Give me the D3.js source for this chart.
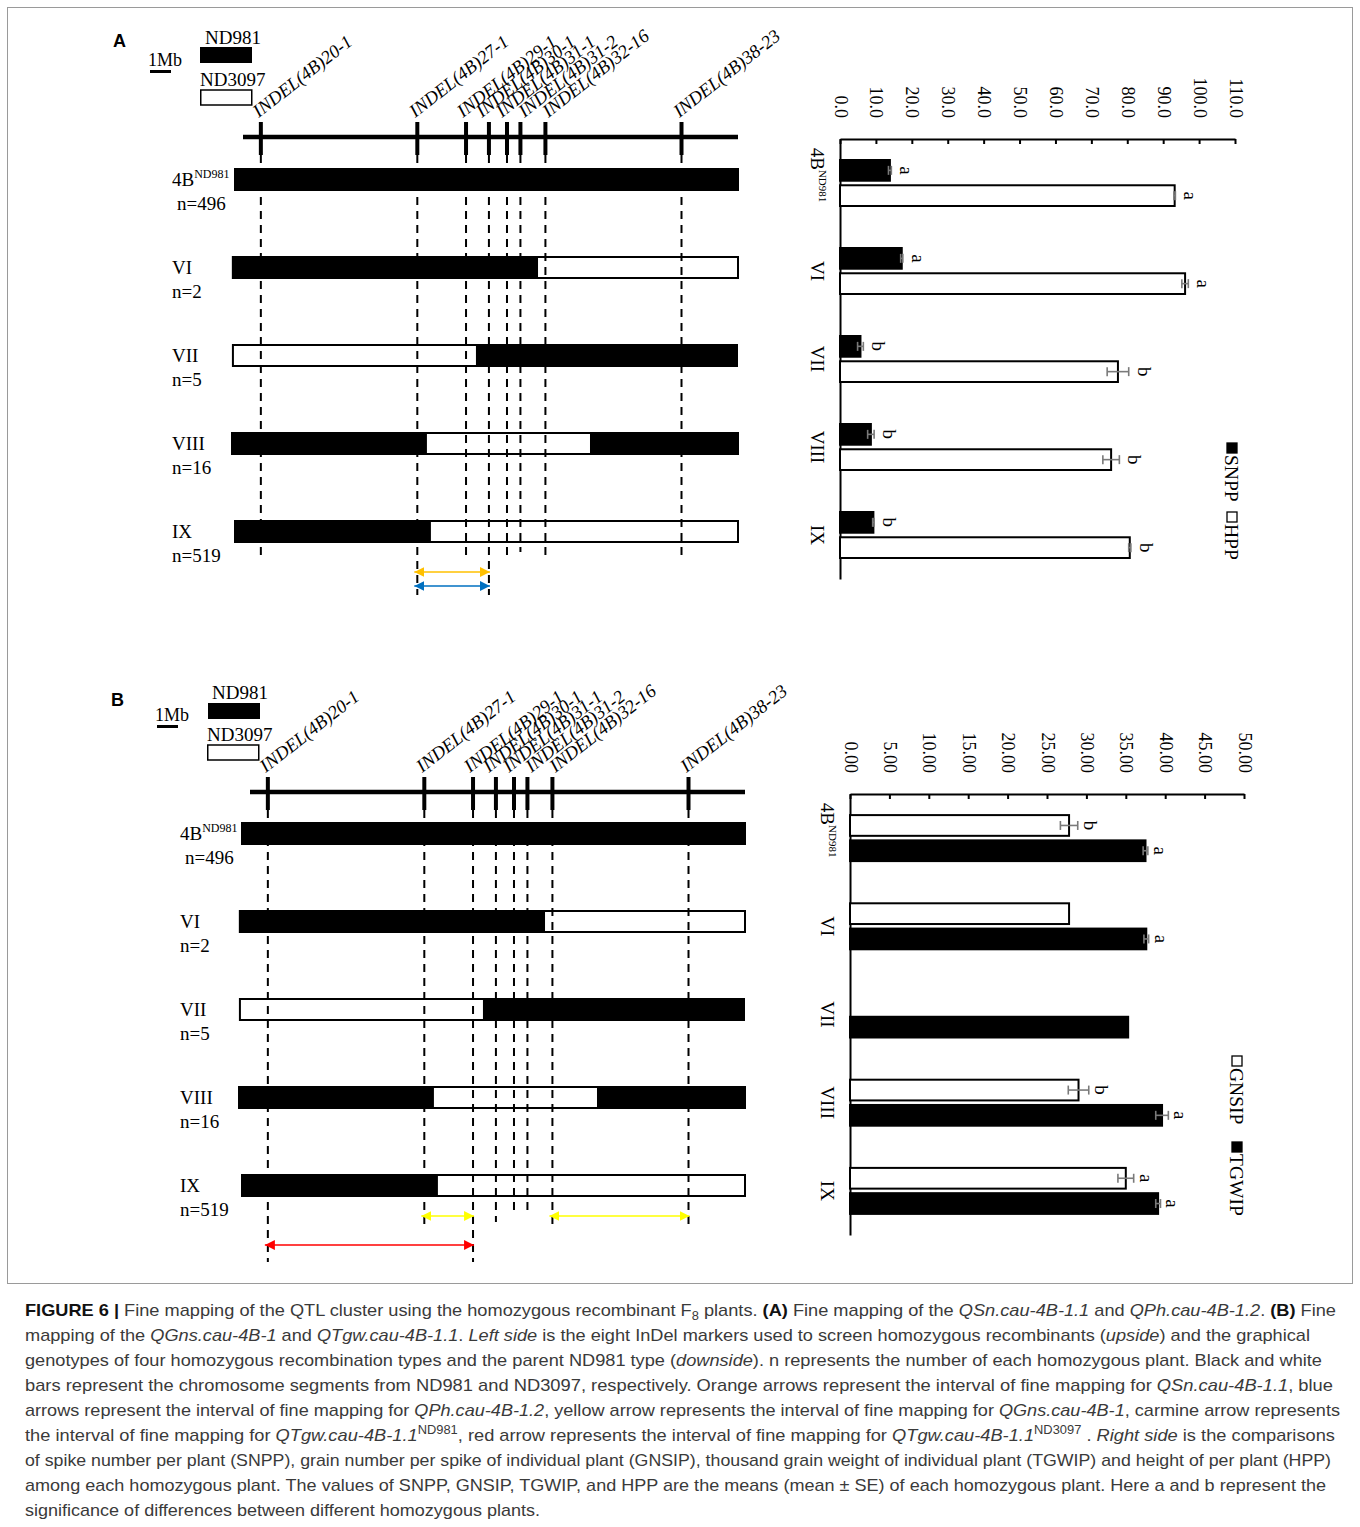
<!DOCTYPE html>
<html>
<head>
<meta charset="utf-8">
<script src="https://cdn.jsdelivr.net/npm/d3@7"></script>
<style>
  html, body { margin: 0; padding: 0; background: #fff; }
  svg { display: block; }
</style>
</head>
<body>
<svg id="fig" width="1360" height="1527"></svg>
<script>
// ---------------- data ----------------
const markerNames = ["INDEL(4B)20-1", "INDEL(4B)27-1", "INDEL(4B)29-1", "INDEL(4B)30-1",
                     "INDEL(4B)31-1", "INDEL(4B)31-2", "INDEL(4B)32-16", "INDEL(4B)38-23"];
const markerMb = [0.85, 8.3, 10.62, 11.71, 12.57, 13.21, 14.4, 20.88];
const chromosomeMb = [0, 23.57];

const genotypeNames = ["4B^ND981", "VI", "VII", "VIII", "IX"];
const plantCounts = [496, 2, 5, 16, 519];
// segment boundaries (Mb) of each graphical genotype; parents alternate from the first one
const genotypeBreaks = [
  [-0.38, 23.57],
  [-0.48, 14.0, 23.57],
  [-0.48, 11.14, 23.52],
  [-0.52, 8.71, 16.57, 23.57],
  [-0.38, 8.9, 23.57]
];
const genotypeFirstParent = ["ND981", "ND981", "ND3097", "ND981", "ND981"];

// mapped intervals as [left marker, right marker] indices
const qSnInterval = [1, 3];
const qPhInterval = [1, 3];
const qGnsIntervals = [[1, 2], [6, 7]];
const qTgwInterval = [0, 2];

// trait means, SE and significance groups
const snpp = [13.9, 17.2, 5.7, 8.6, 9.3];
const snppSE = [0.4, 0.3, 0.8, 0.9, 0.2];
const snppGroup = ["a", "a", "b", "b", "b"];
const hpp = [93.2, 96.1, 77.4, 75.5, 80.7];
const hppSE = [0.2, 0.9, 3.0, 2.3, 0.3];
const hppGroup = ["a", "a", "b", "b", "b"];
const ticksA = [0, 10, 20, 30, 40, 50, 60, 70, 80, 90, 100, 110];

const gnsip = [27.8, 27.8, null, 29.0, 35.0];
const gnsipSE = [1.1, null, null, 1.3, 1.0];
const gnsipGroup = ["b", "", "", "b", "a"];
const tgwip = [37.5, 37.6, 35.3, 39.6, 39.1];
const tgwipSE = [0.3, 0.3, null, 0.8, 0.3];
const tgwipGroup = ["a", "a", "", "a", "a"];
const ticksB = [0, 5, 10, 15, 20, 25, 30, 35, 40, 45, 50];

// ---------------- drawing ----------------
const SERIF = "'Liberation Serif', 'Times New Roman', serif";
const SANS = "'Liberation Sans', Arial, sans-serif";
const svg = d3.select("#fig");

// figure frame
svg.append("rect").attr("x", 7.5).attr("y", 7.5).attr("width", 1345).attr("height", 1276)
  .attr("fill", "none").attr("stroke", "#9a9a9a").attr("stroke-width", 1);

const defs = svg.append("defs");
function arrowMarker(id, color) {
  defs.append("marker").attr("id", id).attr("viewBox", "0 0 10 10")
    .attr("refX", 10).attr("refY", 5).attr("markerWidth", 10).attr("markerHeight", 10)
    .attr("markerUnits", "userSpaceOnUse").attr("orient", "auto-start-reverse")
    .append("path").attr("d", "M0,0L10,5L0,10Z").attr("fill", color);
}
const arrowColors = { orange: "#FFC000", blue: "#0070C0", yellow: "#FFFF00", red: "#FF0000" };
Object.entries(arrowColors).forEach(([k, c]) => arrowMarker("arrow-" + k, c));

function labelWithSup(sel, name, size, supSize) {
  const parts = name.split("^");
  sel.append("tspan").text(parts[0]);
  if (parts[1]) sel.append("tspan").attr("font-size", supSize).attr("dy", -size * 0.4).text(parts[1]);
}

// small sideways nudges that keep the crowded marker names legible
const labelNudge = [0, 0, -1, -5, -3, 6, 5, 0];

function drawMap(p) {
  const g = svg.append("g");
  const x = d3.scaleLinear().domain(chromosomeMb).range([p.x0, p.x0 + 495]);
  const mbPx = x(1) - x(0);

  g.append("text").attr("x", p.letterX).attr("y", p.letterY)
    .attr("font-family", SANS).attr("font-weight", "bold").attr("font-size", 18).text(p.letter);

  // 1 Mb scale bar and parent legend
  g.append("text").attr("x", p.mbTextX).attr("y", p.mbTextY)
    .attr("font-family", SERIF).attr("font-size", 18).text("1Mb");
  g.append("rect").attr("x", p.mbBarX).attr("y", p.mbBarY).attr("width", mbPx).attr("height", 3).attr("fill", "#000");
  g.append("text").attr("x", p.nd981TextX).attr("y", p.nd981TextY)
    .attr("font-family", SERIF).attr("font-size", 19).text("ND981");
  g.append("rect").attr("x", p.nd981RectX).attr("y", p.nd981RectY).attr("width", 52).attr("height", 16).attr("fill", "#000");
  g.append("text").attr("x", p.nd3097TextX).attr("y", p.nd3097TextY)
    .attr("font-family", SERIF).attr("font-size", 19).text("ND3097");
  g.append("rect").attr("x", p.nd3097RectX + 0.75).attr("y", p.nd3097RectY).attr("width", 51).attr("height", 15)
    .attr("fill", "#fff").attr("stroke", "#000").attr("stroke-width", 1.5);

  // chromosome and marker ticks
  g.append("line").attr("x1", x(chromosomeMb[0])).attr("x2", x(chromosomeMb[1]))
    .attr("y1", p.chromY).attr("y2", p.chromY).attr("stroke", "#000").attr("stroke-width", 4.5);
  g.selectAll(".mtick").data(markerMb).join("line").attr("class", "mtick")
    .attr("x1", d => x(d)).attr("x2", d => x(d))
    .attr("y1", p.chromY - 15).attr("y2", p.chromY + 18)
    .attr("stroke", "#000").attr("stroke-width", 4);
  g.selectAll(".mlabel").data(markerNames).join("text").attr("class", "mlabel")
    .attr("transform", (d, i) => `translate(${x(markerMb[i]) - 2 + labelNudge[i]},${p.chromY - 19}) rotate(-38)`)
    .attr("font-family", SERIF).attr("font-style", "italic").attr("font-size", 18.5).text(d => d);

  const rowY = i => p.rowTop + i * 88;
  const barH = 21;

  // white outline of every genotype bar
  genotypeBreaks.forEach((b, i) => {
    g.append("rect").attr("x", x(b[0])).attr("y", rowY(i)).attr("width", x(b[b.length - 1]) - x(b[0]))
      .attr("height", barH).attr("fill", "#fff").attr("stroke", "#000").attr("stroke-width", 2);
  });

  // dashed guides from each marker
  g.selectAll(".guide").data(markerMb).join("line").attr("class", "guide")
    .attr("x1", d => x(d)).attr("x2", d => x(d))
    .attr("y1", p.chromY + 18).attr("y2", (d, i) => p.guideEnds[i])
    .attr("stroke", "#000").attr("stroke-width", 2).attr("stroke-dasharray", "8,6");

  // ND981 (black) segments
  genotypeBreaks.forEach((b, i) => {
    const firstBlack = genotypeFirstParent[i] === "ND981";
    for (let k = 0; k < b.length - 1; k++) {
      const black = (k % 2 === 0) === firstBlack;
      if (!black) continue;
      g.append("rect").attr("x", x(b[k]) - 1).attr("y", rowY(i) - 1)
        .attr("width", x(b[k + 1]) - x(b[k]) + 2).attr("height", barH + 2).attr("fill", "#000");
    }
  });

  // genotype labels and plant counts
  genotypeNames.forEach((name, i) => {
    const t = g.append("text").attr("x", p.rowLabelX).attr("y", rowY(i) + 17)
      .attr("font-family", SERIF).attr("font-size", 19);
    labelWithSup(t, name, 19, 12);
    g.append("text").attr("x", p.rowLabelX + (i === 0 ? 5 : 0)).attr("y", rowY(i) + 41)
      .attr("font-family", SERIF).attr("font-size", 19).text("n=" + plantCounts[i]);
  });

  // fine-mapping interval arrows
  p.arrows.forEach(a => {
    g.append("line").attr("x1", x(markerMb[a.interval[0]]) - 3).attr("x2", x(markerMb[a.interval[1]]) + 1)
      .attr("y1", a.y).attr("y2", a.y)
      .attr("stroke", arrowColors[a.color]).attr("stroke-width", 1.6)
      .attr("marker-start", `url(#arrow-${a.color})`).attr("marker-end", `url(#arrow-${a.color})`);
  });
}

function drawBars(c) {
  const g = svg.append("g");
  const x = d3.scaleLinear().domain([0, c.max]).range([c.left, c.right]);
  const y = d3.scaleBand().domain(genotypeNames).range([c.top, c.bottom]);
  const slot = d3.scaleBand().domain(c.series.map((s, i) => i)).range([-23, 23]).paddingInner(0.18);

  // value axis along the top, labels turned a quarter
  const ax = g.append("g").attr("transform", `translate(0,${c.top})`)
    .call(d3.axisTop(x).tickValues(c.ticks).tickFormat(d3.format(c.fmt)).tickSizeInner(-5).tickSizeOuter(0));
  ax.attr("font-family", SERIF).attr("font-size", 18);
  ax.select(".domain").attr("stroke-width", 2);
  ax.selectAll(".tick line").attr("stroke-width", 2);
  ax.selectAll(".tick text").attr("transform", "rotate(90)").attr("x", -21).attr("y", 6)
    .attr("dy", null).attr("text-anchor", "end").attr("fill", "#000");

  // category axis
  const cax = g.append("g").attr("transform", `translate(${c.left},0)`)
    .call(d3.axisLeft(y).tickSize(0).tickFormat(""));
  cax.select(".domain").attr("stroke-width", 2);
  genotypeNames.forEach((name, i) => {
    const t = g.append("text")
      .attr("transform", `translate(${c.left - 29},${y(name) + y.bandwidth() / 2 - (i === 0 ? 8 : 0)}) rotate(90)`)
      .attr("text-anchor", "middle").attr("font-family", SERIF).attr("font-size", 19);
    labelWithSup(t, name, 19, 11);
  });

  c.series.forEach((s, si) => {
    genotypeNames.forEach((name, i) => {
      const v = s.values[i];
      if (v == null) return;
      const yc = y(name) + y.bandwidth() / 2 + slot(si) + slot.bandwidth() / 2;
      g.append("rect").attr("x", x(0)).attr("y", yc - slot.bandwidth() / 2)
        .attr("width", x(v) - x(0)).attr("height", slot.bandwidth())
        .attr("fill", s.fill).attr("stroke", "#000").attr("stroke-width", 2);
      const se = s.se[i];
      let end = x(v);
      if (se != null) {
        const ex0 = x(v - se), ex1 = x(v + se);
        end = ex1;
        const eg = g.append("g").attr("stroke", "#7a7a7a").attr("stroke-width", 1.6);
        eg.append("line").attr("x1", ex0).attr("x2", ex1).attr("y1", yc).attr("y2", yc);
        eg.append("line").attr("x1", ex0).attr("x2", ex0).attr("y1", yc - 4.5).attr("y2", yc + 4.5);
        eg.append("line").attr("x1", ex1).attr("x2", ex1).attr("y1", yc - 4.5).attr("y2", yc + 4.5);
      }
      if (s.groups[i]) {
        g.append("text").attr("transform", `translate(${end + c.letterGap},${yc}) rotate(90)`)
          .attr("text-anchor", "middle").attr("font-family", SERIF).attr("font-size", 19).text(s.groups[i]);
      }
    });
  });

  // legend, turned like the rest of the chart
  c.legend.forEach(l => {
    g.append("rect").attr("x", c.legendX).attr("y", l.y).attr("width", 10).attr("height", 10)
      .attr("fill", l.fill).attr("stroke", "#000").attr("stroke-width", 1.3);
    g.append("text").attr("transform", `translate(${c.legendX - 2},${l.y + 12}) rotate(90)`)
      .attr("font-family", SERIF).attr("font-size", 19.5).text(l.label);
  });
}

// ---- panel A ----
drawMap({
  letter: "A", letterX: 113, letterY: 47, x0: 243, chromY: 137,
  mbTextX: 148, mbTextY: 66, mbBarX: 150, mbBarY: 70,
  nd981TextX: 205, nd981TextY: 44, nd981RectX: 200, nd981RectY: 47,
  nd3097TextX: 200, nd3097TextY: 86, nd3097RectX: 200, nd3097RectY: 90,
  rowTop: 169, rowLabelX: 172,
  guideEnds: [558, 595, 558, 595, 558, 552, 558, 558],
  arrows: [{ interval: qSnInterval, color: "orange", y: 572 }, { interval: qPhInterval, color: "blue", y: 586 }]
});
drawBars({
  left: 840, right: 1235, top: 139, bottom: 579, max: 110, ticks: ticksA, fmt: ".1f", letterGap: 9,
  series: [
    { values: snpp, se: snppSE, groups: snppGroup, fill: "#000" },
    { values: hpp, se: hppSE, groups: hppGroup, fill: "#fff" }
  ],
  legendX: 1227,
  legend: [{ y: 443, fill: "#000", label: "SNPP" }, { y: 512, fill: "#fff", label: "HPP" }]
});

// ---- panel B ----
drawMap({
  letter: "B", letterX: 111, letterY: 706, x0: 250, chromY: 792,
  mbTextX: 155, mbTextY: 721, mbBarX: 157, mbBarY: 725,
  nd981TextX: 212, nd981TextY: 699, nd981RectX: 208, nd981RectY: 703,
  nd3097TextX: 207, nd3097TextY: 741, nd3097RectX: 207, nd3097RectY: 745,
  rowTop: 823, rowLabelX: 180,
  guideEnds: [1262, 1228, 1262, 1222, 1212, 1210, 1228, 1228],
  arrows: [
    { interval: qGnsIntervals[0], color: "yellow", y: 1216 },
    { interval: qGnsIntervals[1], color: "yellow", y: 1216 },
    { interval: qTgwInterval, color: "red", y: 1245 }
  ]
});
drawBars({
  left: 850, right: 1244, top: 794, bottom: 1235, max: 50, ticks: ticksB, fmt: ".2f", letterGap: 6,
  series: [
    { values: gnsip, se: gnsipSE, groups: gnsipGroup, fill: "#fff" },
    { values: tgwip, se: tgwipSE, groups: tgwipGroup, fill: "#000" }
  ],
  legendX: 1232,
  legend: [{ y: 1056, fill: "#fff", label: "GNSIP" }, { y: 1142, fill: "#000", label: "TGWIP" }]
});

// ---- caption ----
const captionLines = [
  [["FIGURE 6 |", "b"], [" Fine mapping of the QTL cluster using the homozygous recombinant F"], ["8", "sub"], [" plants. "], ["(A)", "b"], [" Fine mapping of the "], ["QSn.cau-4B-1.1", "i"], [" and "], ["QPh.cau-4B-1.2", "i"], [". "], ["(B)", "b"], [" Fine"]],
  [["mapping of the "], ["QGns.cau-4B-1", "i"], [" and "], ["QTgw.cau-4B-1.1", "i"], [". "], ["Left side", "i"], [" is the eight InDel markers used to screen homozygous recombinants ("], ["upside", "i"], [") and the graphical"]],
  [["genotypes of four homozygous recombination types and the parent ND981 type ("], ["downside", "i"], ["). n represents the number of each homozygous plant. Black and white"]],
  [["bars represent the chromosome segments from ND981 and ND3097, respectively. Orange arrows represent the interval of fine mapping for "], ["QSn.cau-4B-1.1", "i"], [", blue"]],
  [["arrows represent the interval of fine mapping for "], ["QPh.cau-4B-1.2", "i"], [", yellow arrow represents the interval of fine mapping for "], ["QGns.cau-4B-1", "i"], [", carmine arrow represents"]],
  [["the interval of fine mapping for "], ["QTgw.cau-4B-1.1", "i"], ["ND981", "sup"], [", red arrow represents the interval of fine mapping for "], ["QTgw.cau-4B-1.1", "i"], ["ND3097", "sup"], [" . "], ["Right side", "i"], [" is the comparisons"]],
  [["of spike number per plant (SNPP), grain number per spike of individual plant (GNSIP), thousand grain weight of individual plant (TGWIP) and height of per plant (HPP)"]],
  [["among each homozygous plant. The values of SNPP, GNSIP, TGWIP, and HPP are the means (mean \u00B1 SE) of each homozygous plant. Here a and b represent the"]],
  [["significance of differences between different homozygous plants."]]
];
const captionEnds = [1336, 1310, 1322, 1333, 1340, 1335, 1331, 1326, 540];
const cap = svg.append("g").attr("font-family", SANS).attr("font-size", 17).attr("fill", "#3a3a3a");
captionLines.forEach((line, li) => {
  const t = cap.append("text").attr("x", 25).attr("y", 1316 + li * 25);
  let shift = 0;
  line.forEach(([txt, st]) => {
    const ts = t.append("tspan").text(txt);
    if (st === "b") ts.attr("font-weight", "bold").attr("fill", "#111");
    if (st === "i") ts.attr("font-style", "italic");
    if (st === "sub" || st === "sup") {
      const d = st === "sub" ? 4 : -7;
      ts.attr("font-size", 12).attr("dy", d - shift);
      shift = d;
    } else if (shift !== 0) {
      ts.attr("dy", -shift);
      shift = 0;
    }
  });
  t.attr("textLength", captionEnds[li] - 25).attr("lengthAdjust", "spacingAndGlyphs");
});
</script>
</body>
</html>
